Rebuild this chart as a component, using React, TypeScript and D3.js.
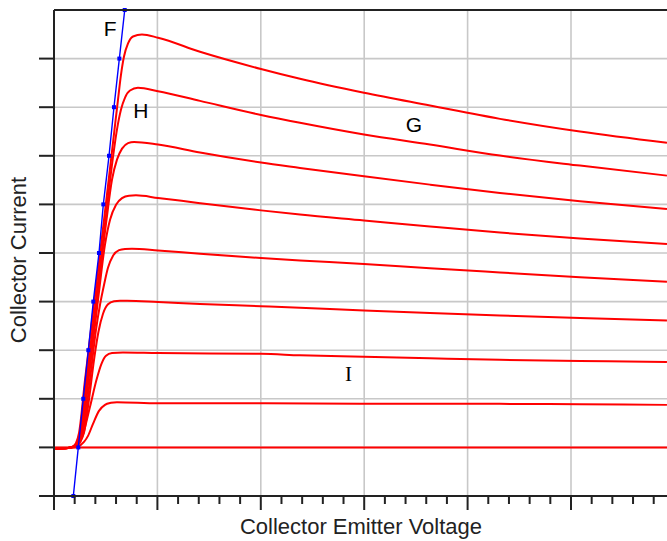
import React, { useRef, useEffect } from 'react';
import * as d3 from 'd3';

// 集电极特性曲线：x = Vce（主刻度 1），y = Ic（主刻度 1）
const curveX1 = [0, 6];
const curveY1 = [0, 0];

const curveX2 = [0, 0.135, 0.232, 0.29, 0.329, 0.377, 0.435, 0.493, 0.551, 0.609, 1.006, 2.002, 2.998, 4.313, 5.087, 5.928];
const curveY2 = [-0.021, -0.01, 0.021, 0.113, 0.237, 0.484, 0.752, 0.875, 0.917, 0.931, 0.91, 0.91, 0.896, 0.896, 0.886, 0.875];

const curveX3 = [0, 0.135, 0.213, 0.251, 0.285, 0.348, 0.411, 0.459, 0.503, 0.561, 0.667, 1.006, 2.002, 2.379, 2.998, 3.636, 4.313, 5.087, 5.928];
const curveY3 = [-0.021, -0.01, 0.021, 0.093, 0.299, 0.834, 1.39, 1.72, 1.885, 1.94, 1.953, 1.94, 1.926, 1.895, 1.864, 1.833, 1.802, 1.778, 1.755];

const curveX4 = [0, 0.135, 0.203, 0.242, 0.29, 0.338, 0.387, 0.43, 0.474, 0.522, 0.58, 0.638, 0.706, 1.006, 1.412, 2.002, 2.379, 2.998, 3.636, 4.313, 5.087, 5.928];
const curveY4 = [-0.021, -0.01, 0.021, 0.093, 0.299, 0.978, 1.802, 2.379, 2.75, 2.945, 3.007, 3.017, 3.017, 2.991, 2.95, 2.905, 2.875, 2.818, 2.766, 2.715, 2.663, 2.612];

const curveX5 = [0, 0.135, 0.198, 0.237, 0.28, 0.348, 0.406, 0.445, 0.484, 0.522, 0.571, 0.629, 0.687, 0.754, 1.006, 1.412, 2.002, 2.379, 2.998, 3.636, 4.313, 5.087, 5.928];
const curveY5 = [-0.021, -0.01, 0.021, 0.093, 0.299, 1.39, 2.42, 2.935, 3.347, 3.697, 3.944, 4.058, 4.084, 4.089, 4.053, 3.986, 3.897, 3.848, 3.773, 3.687, 3.6, 3.502, 3.409];

const curveX6 = [0, 0.135, 0.193, 0.232, 0.271, 0.334, 0.426, 0.493, 0.542, 0.6, 0.658, 0.725, 0.793, 1.006, 1.412, 2.002, 2.379, 2.998, 3.636, 4.313, 5.087, 5.928];
const curveY6 = [-0.021, -0.01, 0.021, 0.093, 0.299, 1.39, 3.038, 4.171, 4.686, 4.995, 5.129, 5.18, 5.186, 5.133, 5.026, 4.877, 4.79, 4.67, 4.545, 4.42, 4.3, 4.185];

const curveX7 = [0, 0.135, 0.193, 0.227, 0.261, 0.324, 0.416, 0.508, 0.561, 0.609, 0.658, 0.716, 0.774, 1.006, 1.412, 2.002, 2.379, 2.998, 3.636, 4.313, 5.087, 5.928];
const curveY7 = [-0.021, -0.01, 0.021, 0.093, 0.299, 1.39, 3.038, 4.686, 5.51, 5.922, 6.148, 6.262, 6.286, 6.231, 6.066, 5.86, 5.751, 5.578, 5.407, 5.236, 5.067, 4.906];

const curveX8 = [0, 0.135, 0.189, 0.222, 0.251, 0.314, 0.406, 0.498, 0.561, 0.609, 0.648, 0.687, 0.735, 0.812, 1.006, 1.412, 2.002, 2.379, 2.998, 3.636, 4.313, 5.087, 5.928];
const curveY8 = [-0.021, -0.01, 0.021, 0.093, 0.299, 1.39, 3.038, 4.686, 5.819, 6.54, 6.952, 7.199, 7.343, 7.398, 7.329, 7.13, 6.84, 6.678, 6.437, 6.231, 6.004, 5.798, 5.592];

const curveX9 = [0, 0.135, 0.184, 0.213, 0.242, 0.3, 0.392, 0.484, 0.574, 0.619, 0.648, 0.677, 0.716, 0.764, 0.851, 1.006, 1.412, 2.002, 2.379, 2.998, 3.636, 4.313, 5.087, 5.928];
const curveY9 = [-0.021, -0.01, 0.021, 0.093, 0.299, 1.39, 3.038, 4.686, 6.334, 7.158, 7.672, 8.043, 8.311, 8.455, 8.496, 8.43, 8.14, 7.786, 7.584, 7.296, 7.034, 6.76, 6.498, 6.266];

const curveXs = [curveX1, curveX2, curveX3, curveX4, curveX5, curveX6, curveX7, curveX8, curveX9];
const curveYs = [curveY1, curveY2, curveY3, curveY4, curveY5, curveY6, curveY7, curveY8, curveY9];

// 蓝色直线 F 上的点
const loadX = [0.187, 0.235, 0.283, 0.332, 0.38, 0.435, 0.477, 0.532, 0.58, 0.632, 0.684];
const loadY = [-1, 0, 1, 2, 3, 4, 5, 6, 7, 8, 9];

// 字母标注
const labelText = ['F', 'H', 'G', 'I'];
const labelX = [0.542, 0.841, 3.482, 2.848];
const labelY = [8.455, 6.787, 6.492, 1.376];

// 刻度
const xMajor = [0, 1, 2, 3, 4, 5];
const xMinor = d3.range(0, 6.01, 0.2);
const yTicks = [-1, 0, 1, 2, 3, 4, 5, 6, 7, 8];

const W = 667;
const H = 541;

const App = () => {
  const ref = useRef<SVGSVGElement>(null);

  useEffect(() => {
    const svg = d3.select(ref.current);
    svg.selectAll('*').remove();

    const x = d3.scaleLinear().domain([0, 6]).range([54, 674.4]);
    const y = d3.scaleLinear().domain([-1, 9]).range([496, 10]);

    const grid = '#c8c8c8';
    const axisColor = '#222';
    const sans = '"Liberation Sans", Arial, sans-serif';

    // 网格线
    svg.append('g').selectAll('line')
      .data(xMajor.slice(1))
      .enter().append('line')
      .attr('x1', d => x(d)).attr('x2', d => x(d))
      .attr('y1', y(-1)).attr('y2', y(9))
      .attr('stroke', grid).attr('stroke-width', 1.6);

    svg.append('g').selectAll('line')
      .data(yTicks.slice(1))
      .enter().append('line')
      .attr('x1', x(0)).attr('x2', W)
      .attr('y1', d => y(d)).attr('y2', d => y(d))
      .attr('stroke', grid).attr('stroke-width', 1.6);

    // 红色特性曲线
    const line = d3.line<[number, number]>()
      .x(d => x(d[0]))
      .y(d => y(d[1]))
      .curve(d3.curveMonotoneX);

    curveXs.forEach((xs, i) => {
      const pts = xs.map((v, j) => [v, curveYs[i][j]] as [number, number]);
      svg.append('path')
        .attr('d', line(pts))
        .attr('fill', 'none')
        .attr('stroke', '#ff0000')
        .attr('stroke-width', 2)
        .attr('stroke-linejoin', 'round');
    });

    // 蓝色直线 F
    const loadPts = loadX.map((v, j) => [v, loadY[j]] as [number, number]);
    svg.append('path')
      .attr('d', d3.line<[number, number]>().x(d => x(d[0])).y(d => y(d[1]))(loadPts))
      .attr('fill', 'none')
      .attr('stroke', '#0000ff')
      .attr('stroke-width', 1.4);
    svg.append('g').selectAll('rect')
      .data(loadPts)
      .enter().append('rect')
      .attr('x', d => x(d[0]) - 2)
      .attr('y', d => y(d[1]) - 2)
      .attr('width', 4).attr('height', 4)
      .attr('fill', '#0000ff');

    // 坐标轴与外框
    svg.append('line')
      .attr('x1', x(0)).attr('x2', W).attr('y1', y(9)).attr('y2', y(9))
      .attr('stroke', axisColor).attr('stroke-width', 2);
    svg.append('line')
      .attr('x1', x(0)).attr('x2', x(0)).attr('y1', y(9)).attr('y2', y(-1) + 14)
      .attr('stroke', axisColor).attr('stroke-width', 2);
    svg.append('line')
      .attr('x1', x(0) - 15).attr('x2', W).attr('y1', y(-1)).attr('y2', y(-1))
      .attr('stroke', axisColor).attr('stroke-width', 2);

    svg.append('g').selectAll('line')
      .data(yTicks)
      .enter().append('line')
      .attr('x1', x(0) - 15).attr('x2', x(0))
      .attr('y1', d => y(d)).attr('y2', d => y(d))
      .attr('stroke', axisColor).attr('stroke-width', 2);

    svg.append('g').selectAll('line')
      .data(xMinor)
      .enter().append('line')
      .attr('x1', d => x(d)).attr('x2', d => x(d))
      .attr('y1', y(-1))
      .attr('y2', d => y(-1) + (Math.abs(d - Math.round(d)) < 1e-6 ? 14 : 8))
      .attr('stroke', axisColor).attr('stroke-width', 2);

    // 字母标注
    svg.append('g').selectAll('text')
      .data(labelText)
      .enter().append('text')
      .attr('x', (d, i) => x(labelX[i]))
      .attr('y', (d, i) => y(labelY[i]))
      .attr('text-anchor', 'middle')
      .style('font-family', d => d === 'I' ? '"Liberation Serif", "DejaVu Serif", serif' : sans)
      .style('font-size', d => d === 'I' ? '21px' : '21px')
      .style('fill', '#000')
      .text(d => d);

    // 轴标题
    svg.append('text')
      .attr('x', 361).attr('y', 534)
      .attr('text-anchor', 'middle')
      .style('font-family', sans)
      .style('font-size', '22px')
      .style('fill', '#222')
      .text('Collector Emitter Voltage');

    svg.append('text')
      .attr('transform', 'translate(26, 260) rotate(-90)')
      .attr('text-anchor', 'middle')
      .style('font-family', sans)
      .style('font-size', '22px')
      .style('fill', '#222')
      .text('Collector Current');
  }, []);

  return (
    <svg
      ref={ref}
      width={W}
      height={H}
      style={{ position: 'absolute', left: 0, top: 0, background: '#fff' }}
    />
  );
};

export default App;
